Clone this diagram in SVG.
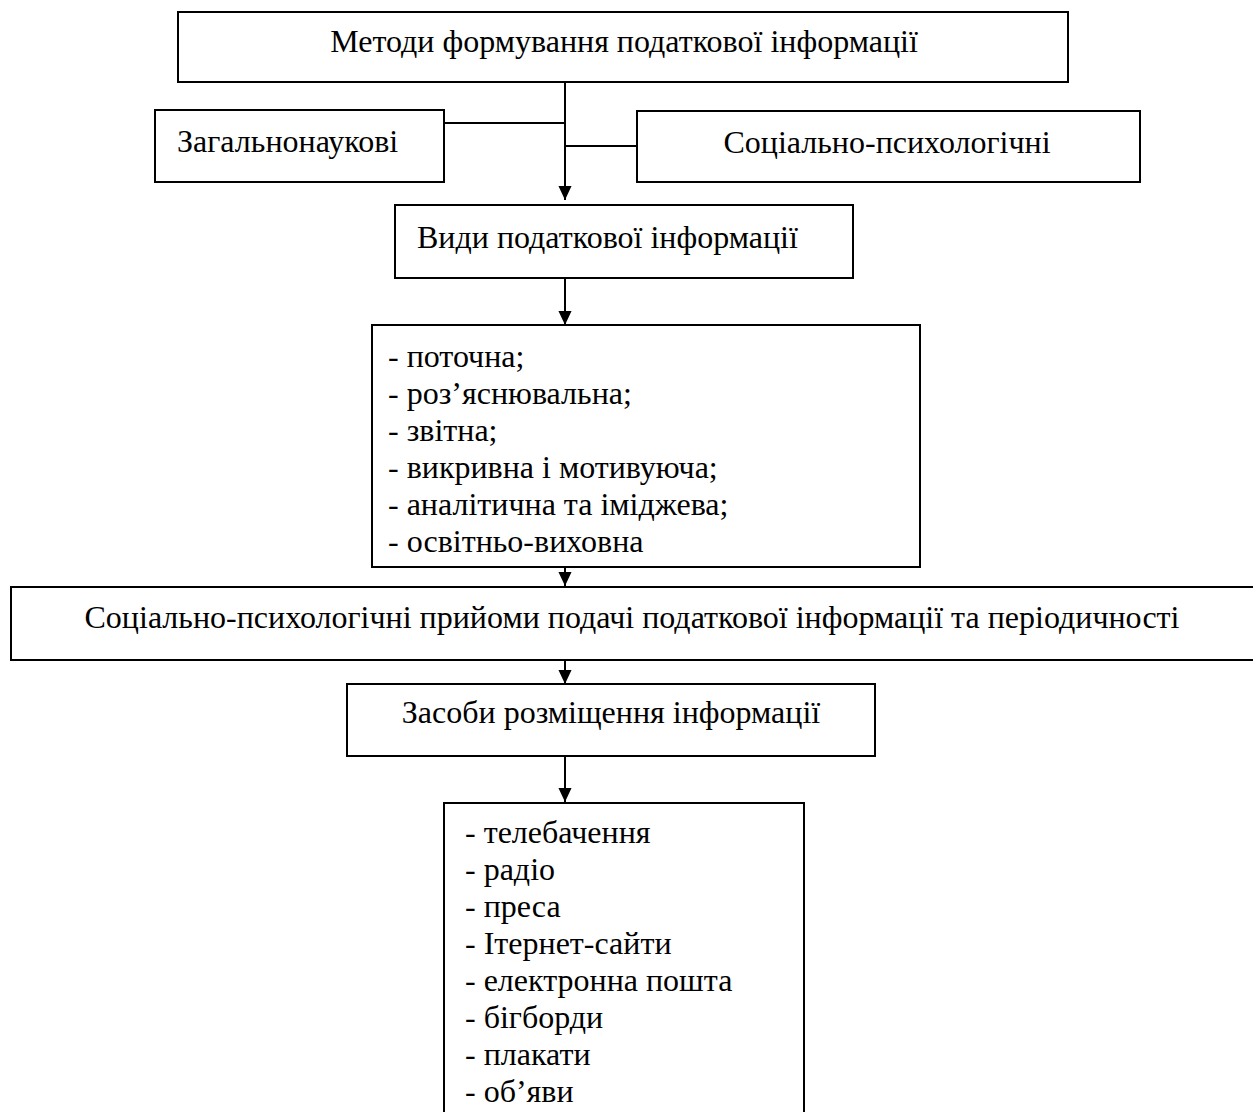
<svg xmlns="http://www.w3.org/2000/svg" width="1253" height="1112" viewBox="0 0 1253 1112">
<style>
.box{fill:#fff;stroke:#000;stroke-width:2}
.t{font-family:"Liberation Serif","Times New Roman",serif;font-size:32px;fill:#000}
.c{text-anchor:middle}
.ln{stroke:#000;stroke-width:2;fill:none}
</style>
<defs>
<marker id="ah" markerWidth="14" markerHeight="16" refX="15" refY="7" orient="auto" markerUnits="userSpaceOnUse" viewBox="0 0 15 14">
<path d="M0,0 L15,7 L0,14 Z" fill="#000"/>
</marker>
</defs>
<rect width="1253" height="1112" fill="#fff"/>
<g id="connectors">
<path class="ln" d="M565,82 V200" marker-end="url(#ah)"/>
<path class="ln" d="M444,123 H565"/>
<path class="ln" d="M565,146 H637"/>
<path class="ln" d="M565,278 V325" marker-end="url(#ah)"/>
<path class="ln" d="M565,567 V586" marker-end="url(#ah)"/>
<path class="ln" d="M565,660 V684" marker-end="url(#ah)"/>
<path class="ln" d="M565,756 V802" marker-end="url(#ah)"/>
</g>
<g id="n-methods">
<rect class="box" x="178" y="12" width="890" height="70"/>
<text class="t c" x="624" y="52">Методи формування податкової інформації</text>
</g>
<g id="n-general">
<rect class="box" x="155" y="110" width="289" height="72"/>
<text class="t" x="177" y="152">Загальнонаукові</text>
</g>
<g id="n-social">
<rect class="box" x="637" y="111" width="503" height="71"/>
<text class="t c" x="887" y="153">Соціально-психологічні</text>
</g>
<g id="n-types">
<rect class="box" x="395" y="205" width="458" height="73"/>
<text class="t" x="417" y="248">Види податкової інформації</text>
</g>
<g id="n-typelist">
<rect class="box" x="372" y="325" width="548" height="242"/>
<text class="t" x="388" y="367">- поточна;</text>
<text class="t" x="388" y="404">- роз’яснювальна;</text>
<text class="t" x="388" y="441">- звітна;</text>
<text class="t" x="388" y="478">- викривна і мотивуюча;</text>
<text class="t" x="388" y="515">- аналітична та іміджева;</text>
<text class="t" x="388" y="552">- освітньо-виховна</text>
</g>
<g id="n-techniques">
<rect class="box" x="11" y="587" width="1260" height="73"/>
<text class="t c" x="632" y="628">Соціально-психологічні прийоми подачі податкової інформації та періодичності</text>
</g>
<g id="n-means">
<rect class="box" x="347" y="684" width="528" height="72"/>
<text class="t c" x="611" y="723">Засоби розміщення інформації</text>
</g>
<g id="n-meanslist">
<rect class="box" x="444" y="803" width="360" height="330"/>
<text class="t" x="465" y="843">- телебачення</text>
<text class="t" x="465" y="880">- радіо</text>
<text class="t" x="465" y="917">- преса</text>
<text class="t" x="465" y="954">- Ітернет-сайти</text>
<text class="t" x="465" y="991">- електронна пошта</text>
<text class="t" x="465" y="1028">- бігборди</text>
<text class="t" x="465" y="1065">- плакати</text>
<text class="t" x="465" y="1102">- об’яви</text>
</g>
</svg>
